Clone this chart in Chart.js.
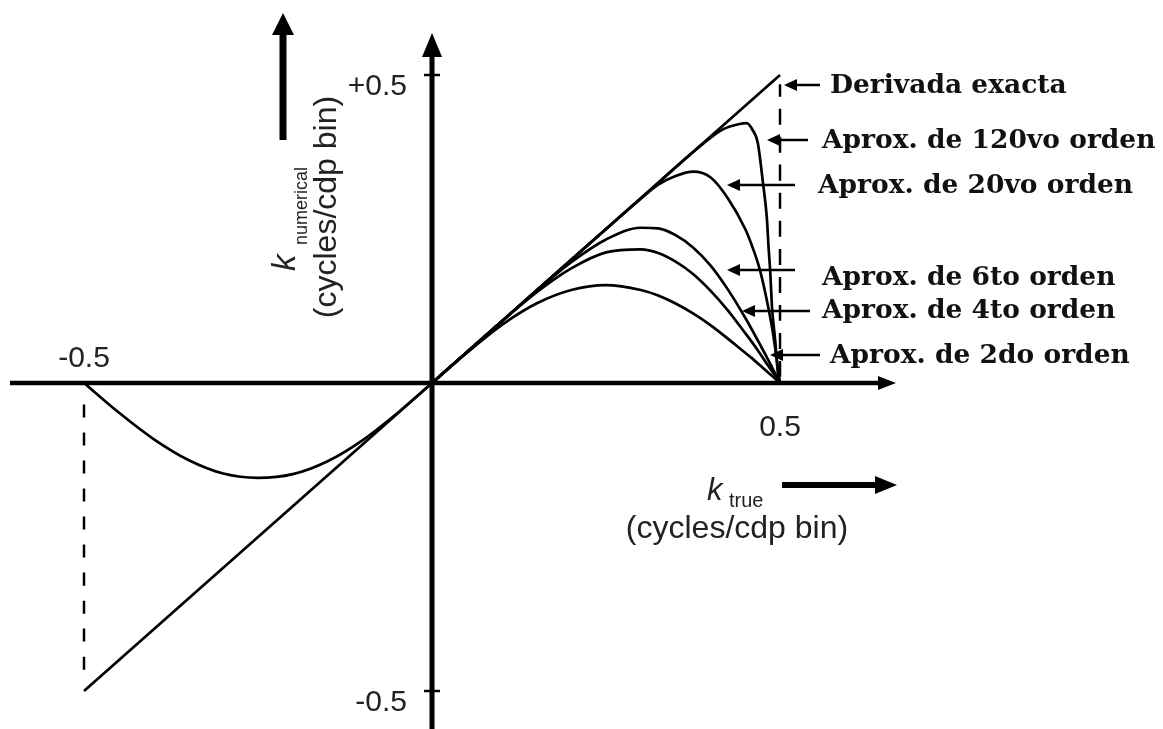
<!DOCTYPE html>
<html>
<head>
<meta charset="utf-8">
<script src="https://cdn.jsdelivr.net/npm/chart.js@4.4.1/dist/chart.umd.min.js"></script>
<style>
    html, body { margin: 0; padding: 0; background: #fff; }
    #wrap { position: relative; width: 1163px; height: 729px; }
</style>
</head>
<body>
<div id="wrap"><canvas id="chart"></canvas></div>
<script>
// values (k in cycles/cdp bin)
var kExact = [-0.5, 0.5];
var exactDeriv = [-0.5, 0.5];

var kLeft = [-0.5, -0.45, -0.4, -0.35, -0.3, -0.25, -0.2, -0.15, -0.1, -0.05, 0];
var approx2Left = [0, -0.048, -0.091, -0.125, -0.147, -0.154, -0.148, -0.127, -0.093, -0.049, 0];

var kRight = [0, 0.05, 0.1, 0.15, 0.2, 0.25, 0.3, 0.325, 0.35, 0.375, 0.4, 0.425, 0.45, 0.46, 0.47, 0.48, 0.49, 0.5];
var approx2 = [0, 0.049, 0.094, 0.129, 0.151, 0.159, 0.151, 0.142, 0.129, 0.113, 0.094, 0.072, 0.049, 0.040, 0.030, 0.020, 0.010, 0];
var approx4 = [0, 0.050, 0.100, 0.147, 0.186, 0.212, 0.217, 0.211, 0.197, 0.177, 0.150, 0.118, 0.081, 0.066, 0.050, 0.033, 0.017, 0];
var approx6 = [0, 0.050, 0.100, 0.149, 0.196, 0.233, 0.252, 0.251, 0.240, 0.220, 0.191, 0.152, 0.106, 0.086, 0.065, 0.044, 0.022, 0];
var approx20 = [0, 0.050, 0.100, 0.150, 0.200, 0.250, 0.299, 0.322, 0.336, 0.343, 0.334, 0.300, 0.250, 0.222, 0.188, 0.140, 0.080, 0];

var k120 = [0, 0.1, 0.2, 0.3, 0.4, 0.42, 0.44, 0.452, 0.46, 0.468, 0.4755, 0.481, 0.4835, 0.486, 0.4885, 0.493, 0.497, 0.5];
var approx120 = [0, 0.1, 0.2, 0.3, 0.398, 0.413, 0.420, 0.422, 0.412, 0.390, 0.325, 0.269, 0.221, 0.179, 0.123, 0.070, 0.016, 0];

var dashRightK = [0.5, 0.5];
var dashRightV = [0.01, 0.485];
var dashLeftK = [-0.5, -0.5];
var dashLeftV = [-0.035, -0.49];

var seriesNames = ['Derivada exacta', 'Aprox. de 120vo orden', 'Aprox. de 20vo orden',
    'Aprox. de 6to orden', 'Aprox. de 4to orden', 'Aprox. de 2do orden'];
var yTicks = [0.5, -0.5];
var yTickLabels = ['+0.5', '-0.5'];
var xTicks = [-0.5, 0.5];
var xTickLabels = ['-0.5', '0.5'];

function pts(xs, ys) {
    return xs.map(function (x, i) { return { x: x, y: ys[i] }; });
}

function curve(data, extra) {
    var ds = {
        data: data,
        showLine: true,
        borderColor: '#000',
        borderWidth: 2.7,
        pointRadius: 0,
        cubicInterpolationMode: 'monotone',
        fill: false
    };
    for (var key in (extra || {})) ds[key] = extra[key];
    return ds;
}

function arrow(ctx, x1, y1, x2, y2, lw, headLen, headHalf) {
    var ang = Math.atan2(y2 - y1, x2 - x1);
    var bx = x2 - headLen * Math.cos(ang);
    var by = y2 - headLen * Math.sin(ang);
    ctx.lineWidth = lw;
    ctx.beginPath();
    ctx.moveTo(x1, y1);
    ctx.lineTo(bx, by);
    ctx.stroke();
    ctx.beginPath();
    ctx.moveTo(x2, y2);
    ctx.lineTo(bx + headHalf * Math.sin(ang), by - headHalf * Math.cos(ang));
    ctx.lineTo(bx - headHalf * Math.sin(ang), by + headHalf * Math.cos(ang));
    ctx.closePath();
    ctx.fill();
}

var axesPlugin = {
    id: 'axesPlugin',
    beforeDatasetsDraw: function (chart) {
        var ctx = chart.ctx;
        var xs = chart.scales.x, ys = chart.scales.y;
        var x0 = xs.getPixelForValue(0), y0 = ys.getPixelForValue(0);
        ctx.save();
        ctx.strokeStyle = '#000';
        ctx.fillStyle = '#000';
        ctx.lineCap = 'butt';
        // horizontal axis
        arrow(ctx, 10, y0, 896, y0, 4.5, 18, 7);
        // vertical axis
        arrow(ctx, x0, chart.height, x0, 33, 5, 24, 10);
        ctx.lineWidth = 2.5;
        yTicks.forEach(function (v) {
            var py = ys.getPixelForValue(v);
            ctx.beginPath();
            ctx.moveTo(x0 - 8, py);
            ctx.lineTo(x0 + 8, py);
            ctx.stroke();
        });
        ctx.restore();
    },
    afterDatasetsDraw: function (chart) {
        var ctx = chart.ctx;
        var xs = chart.scales.x, ys = chart.scales.y;
        var x0 = xs.getPixelForValue(0), y0 = ys.getPixelForValue(0);
        ctx.save();
        ctx.fillStyle = '#222';
        ctx.strokeStyle = '#000';
        ctx.font = '30px "Liberation Sans", Arial, sans-serif';
        ctx.textBaseline = 'middle';
        // y tick labels
        ctx.textAlign = 'right';
        yTicks.forEach(function (v, i) {
            ctx.fillText(yTickLabels[i], x0 - 25, ys.getPixelForValue(v) + 12);
        });
        // x tick labels: -0.5 sits above the axis, 0.5 below
        ctx.textAlign = 'center';
        ctx.fillText(xTickLabels[0], xs.getPixelForValue(xTicks[0]), y0 - 24);
        ctx.fillText(xTickLabels[1], xs.getPixelForValue(xTicks[1]), y0 + 45);

        // x title
        ctx.textBaseline = 'alphabetic';
        ctx.textAlign = 'left';
        ctx.font = 'italic 31px "Liberation Sans", Arial, sans-serif';
        ctx.fillText('k', 707, 500);
        ctx.font = '20px "Liberation Sans", Arial, sans-serif';
        ctx.fillText('true', 729, 507);
        ctx.textAlign = 'center';
        ctx.font = '32px "Liberation Sans", Arial, sans-serif';
        ctx.fillText('(cycles/cdp bin)', 737, 538);
        ctx.fillStyle = '#000';
        arrow(ctx, 782, 485, 897, 485, 6, 22, 9);

        // y title (rotated)
        ctx.save();
        ctx.rotate(-Math.PI / 2);
        ctx.fillStyle = '#222';
        ctx.textAlign = 'left';
        ctx.font = 'italic 33px "Liberation Sans", Arial, sans-serif';
        ctx.fillText('k', -271, 295);
        ctx.font = '18px "Liberation Sans", Arial, sans-serif';
        ctx.fillText('numerical', -245, 307);
        ctx.textAlign = 'center';
        ctx.font = '32px "Liberation Sans", Arial, sans-serif';
        ctx.fillText('(cycles/cdp bin)', -207, 336);
        ctx.restore();
        ctx.fillStyle = '#000';
        arrow(ctx, 283, 140, 283, 13, 7, 22, 11);

        // series annotations with arrows
        var notes = [
            { tx: 830, ty: 93, x1: 820, x2: 784, ay: 85 },
            { tx: 822, ty: 148, x1: 808, x2: 767, ay: 140 },
            { tx: 818, ty: 193, x1: 795, x2: 727, ay: 185 },
            { tx: 822, ty: 285, x1: 795, x2: 727, ay: 270 },
            { tx: 822, ty: 318, x1: 810, x2: 742, ay: 311 },
            { tx: 830, ty: 363, x1: 820, x2: 770, ay: 355 }
        ];
        ctx.textAlign = 'left';
        ctx.font = 'bold 26.5px "DejaVu Serif", serif';
        notes.forEach(function (n, i) {
            ctx.fillStyle = '#000';
            arrow(ctx, n.x1, n.ay, n.x2, n.ay, 2.5, 13, 6);
            ctx.fillStyle = '#111';
            ctx.fillText(seriesNames[i], n.tx, n.ty);
        });
        ctx.restore();
    }
};

new Chart(document.getElementById('chart'), {
    type: 'scatter',
    data: {
        datasets: [
            curve(pts(kExact, exactDeriv), { cubicInterpolationMode: 'default', tension: 0 }),
            curve(pts(kLeft, approx2Left)),
            curve(pts(kRight, approx2)),
            curve(pts(kRight, approx4)),
            curve(pts(kRight, approx6)),
            curve(pts(kRight, approx20)),
            curve(pts(k120, approx120)),
            curve(pts(dashRightK, dashRightV), { borderDash: [16, 12], borderWidth: 2.5, tension: 0 }),
            curve(pts(dashLeftK, dashLeftV), { borderDash: [13, 15], borderWidth: 2.5, tension: 0 })
        ]
    },
    options: {
        responsive: true,
        maintainAspectRatio: false,
        animation: false,
        layout: { padding: { left: 0, right: 268, top: 33, bottom: 0 } },
        plugins: { legend: { display: false }, tooltip: { enabled: false } },
        scales: {
            x: { type: 'linear', display: false, min: -0.6207, max: 0.6652 },
            y: { type: 'linear', display: false, min: -0.5617, max: 0.5682 }
        }
    },
    plugins: [axesPlugin]
});
</script>
</body>
</html>
